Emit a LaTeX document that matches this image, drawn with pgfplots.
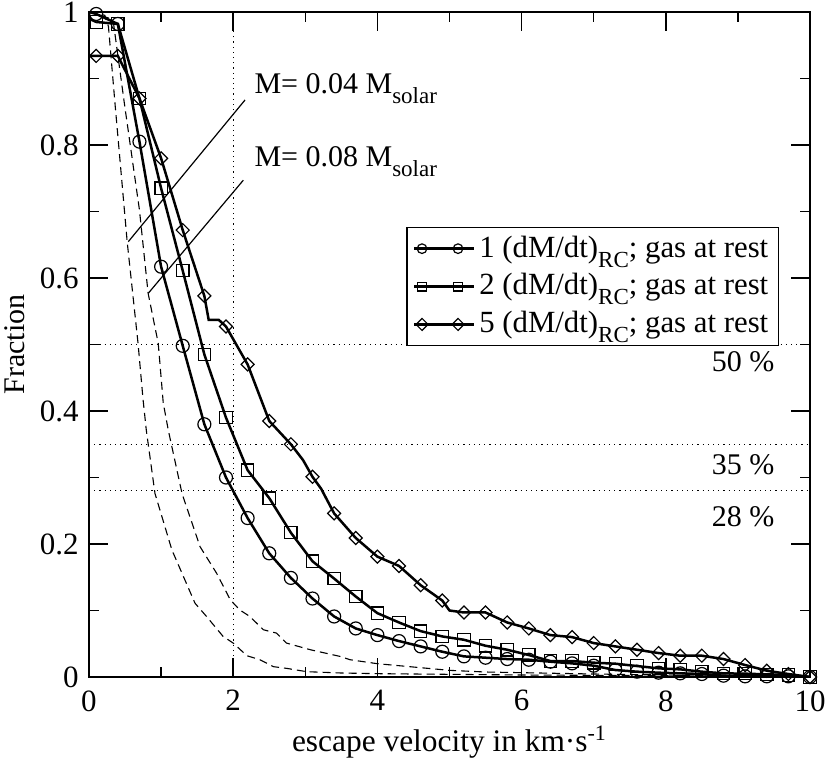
\documentclass[border=0pt]{standalone}
\usepackage{fontspec}
\setmainfont{Liberation Serif}
\usepackage{pgfplots}
\usepackage{pgfplotstable}
\pgfplotsset{compat=1.18}

\pgfplotstableread{
x y
0.1 0.997
0.4 0.982
0.7 0.805
1.0 0.617
1.3 0.498
1.6 0.380
1.9 0.300
2.2 0.239
2.5 0.186
2.8 0.149
3.1 0.118
3.4 0.091
3.7 0.073
4.0 0.063
4.3 0.054
4.6 0.046
4.9 0.038
5.2 0.031
5.5 0.029
5.8 0.027
6.1 0.026
6.4 0.023
6.7 0.0205
7.0 0.017
7.3 0.0105
7.6 0.008
7.9 0.0065
8.2 0.0055
8.5 0.0045
8.8 0.002
9.1 0.001
9.4 0.001
9.7 0.001
10.0 0
}\circdata

\pgfplotstableread{
x y
0.1 0.985
0.4 0.982
0.7 0.870
1.0 0.735
1.3 0.611
1.6 0.485
1.9 0.390
2.2 0.311
2.5 0.269
2.8 0.217
3.1 0.174
3.4 0.148
3.7 0.121
4.0 0.096
4.3 0.082
4.6 0.069
4.9 0.061
5.2 0.056
5.5 0.047
5.8 0.041
6.1 0.033
6.4 0.024
6.7 0.024
7.0 0.0215
7.3 0.020
7.6 0.0165
7.9 0.013
8.2 0.0115
8.5 0.008
8.8 0.0055
9.1 0.005
9.4 0.004
9.7 0.003
10.0 0
}\sqdata

\pgfplotstableread{
x y
0.1 0.934
0.4 0.934
0.7 0.870
1.0 0.780
1.3 0.672
1.6 0.573
1.9 0.527
2.2 0.470
2.5 0.385
2.8 0.350
3.1 0.301
3.4 0.246
3.7 0.209
4.0 0.181
4.3 0.167
4.6 0.138
4.9 0.115
5.2 0.097
5.5 0.097
5.8 0.082
6.1 0.073
6.4 0.063
6.7 0.060
7.0 0.051
7.3 0.046
7.6 0.041
7.9 0.036
8.2 0.032
8.5 0.032
8.8 0.027
9.1 0.018
9.4 0.0095
9.7 0.0045
10.0 0
}\diadata

\newcommand{\sub}[1]{\raisebox{-5pt}{\fontsize{11.5}{13}\selectfont #1}}

\begin{document}
\fontsize{15}{18}\selectfont
\begin{tikzpicture}
\begin{axis}[
  width=360.5pt, height=332.5pt, scale only axis,
  xmin=0, xmax=10, ymin=0, ymax=1,
  xtick={0,2,4,6,8,10}, ytick={0,0.2,0.4,0.6,0.8,1},
  minor x tick num=1, minor y tick num=1,
  tick align=inside,
  major tick length=9.5pt, minor tick length=5pt,
  axis line style={line width=0.75pt},
  every tick/.style={line width=0.75pt, black},
  /pgf/number format/assume math mode=true,
  ticklabel style={font=\fontsize{15.5}{18}\selectfont},
  xticklabel style={yshift=-1.5pt},
  xlabel={escape velocity in km·s\textsuperscript{-1}},
  ylabel={Fraction},
  every axis x label/.style={at={(axis description cs:0.5,0)}, anchor=base, yshift=-37pt, font=\fontsize{15.7}{19}\selectfont},
  every axis y label/.style={at={(axis description cs:0,0.5)}, xshift=-37pt, rotate=90, anchor=center, font=\fontsize{15}{18}\selectfont},
  legend style={at={(rel axis cs:0.4397,0.6767)}, anchor=north west, draw=black, line width=0.75pt,
    font=\fontsize{15.4}{19}\selectfont, inner xsep=3pt, inner ysep=2pt, row sep=2pt},
  legend cell align=left,
  clip=true,
]
% reference dotted lines
\addplot[dotted, line width=0.6pt, forget plot] coordinates {(2,0) (2,1)};
\addplot[dotted, line width=0.6pt, forget plot] coordinates {(0,0.5) (10,0.5)};
\addplot[dotted, line width=0.6pt, forget plot] coordinates {(0,0.35) (10,0.35)};
\addplot[dotted, line width=0.6pt, forget plot] coordinates {(0,0.28) (10,0.28)};

% dashed curves (M = 0.04 and M = 0.08)
\addplot[dash pattern=on 4pt off 2.5pt, line width=0.55pt, forget plot] coordinates {
(0,1.0) (0.22,0.995) (0.27,0.978) (0.36,0.863) (0.53,0.654) (0.68,0.502) (0.75,0.417) (0.795,0.371)
(0.915,0.276) (1.15,0.191) (1.47,0.111) (1.63,0.091) (1.86,0.061) (2.0,0.051) (2.19,0.032)
(2.37,0.026) (2.56,0.0155) (2.74,0.013) (3.02,0.008) (3.5,0.006) (4,0.005) (5,0.004) (6,0.003)
(7,0.0025) (8,0.002) (9,0.001) (10,0)};
\addplot[dash pattern=on 4pt off 2.5pt, line width=0.55pt, forget plot] coordinates {
(0,1.0) (0.3,0.99) (0.34,0.983) (0.49,0.863) (0.70,0.702) (0.82,0.577) (0.96,0.502) (1.03,0.412)
(1.10,0.371) (1.29,0.276) (1.54,0.196) (1.77,0.156) (1.96,0.116) (2.09,0.101) (2.23,0.091)
(2.42,0.071) (2.60,0.066) (2.74,0.051) (3.07,0.041) (3.48,0.031) (3.62,0.026) (4,0.02)
(4.5,0.015) (5,0.01) (5.5,0.0075) (6,0.0065) (7,0.0045) (8,0.003) (9,0.0015) (10,0)};

% annotation pointers
\addplot[line width=0.6pt, forget plot] coordinates {(0.545,0.6546) (2.164,0.8677)};
\addplot[line width=0.6pt, forget plot] coordinates {(0.822,0.577) (2.14,0.747)};

% curve 1 (circles)
\addplot[line width=1.25pt,
  legend image code/.code={\path (-4pt,0pt) -- (26pt,0pt);
    \draw[line width=1.25pt] (0pt,0pt) -- (18pt,0pt);
    \draw[line width=0.6pt] (0pt,0pt) circle (2.4pt) (18pt,0pt) circle (2.4pt);}]
  coordinates {(0,1.0)};
\addlegendentry{1 (dM/dt)\sub{RC}; gas at rest}
\addplot[line width=1.25pt, forget plot] coordinates {(0,1.0) (0.1,0.997)};
\addplot[line width=1.25pt, forget plot] table[x=x,y=y] {\circdata};
\addplot[only marks, mark=o, mark size=3.25pt, mark options={line width=0.6pt}, forget plot] table[x=x,y=y] {\circdata};

% curve 2 (squares)
\addplot[line width=1.25pt,
  legend image code/.code={\path (-4pt,0pt) -- (26pt,0pt);
    \draw[line width=1.25pt] (0pt,0pt) -- (18pt,0pt);
    \draw[line width=0.6pt] (-2.2pt,-2.2pt) rectangle (2.2pt,2.2pt) (15.8pt,-2.2pt) rectangle (20.2pt,2.2pt);}]
  coordinates {(0,1.0)};
\addlegendentry{2 (dM/dt)\sub{RC}; gas at rest}
\addplot[line width=1.25pt, forget plot] table[x=x,y=y] {\sqdata};
\addplot[line width=1.25pt, forget plot] coordinates {(0,0.99) (0.1,0.985)};
\addplot[only marks, mark=square, mark size=3.1pt, mark options={line width=0.6pt}, forget plot] table[x=x,y=y] {\sqdata};

% curve 3 (diamonds)
\addplot[line width=1.25pt,
  legend image code/.code={\path (-4pt,0pt) -- (26pt,0pt);
    \draw[line width=1.25pt] (0pt,0pt) -- (18pt,0pt);
    \draw[line width=0.6pt] (-3pt,0pt) -- (0pt,3pt) -- (3pt,0pt) -- (0pt,-3pt) -- cycle
      (15pt,0pt) -- (18pt,3pt) -- (21pt,0pt) -- (18pt,-3pt) -- cycle;}]
  coordinates {(0,1.0)};
\addlegendentry{5 (dM/dt)\sub{RC}; gas at rest}
\addplot[line width=1.25pt, forget plot] coordinates {
(0,0.934) (0.1,0.934) (0.4,0.934) (0.7,0.870) (1.0,0.780) (1.3,0.672) (1.6,0.573) (1.66,0.537) (1.8,0.537)
(1.9,0.527) (2.2,0.470) (2.5,0.385) (2.8,0.350) (2.97,0.326) (3.1,0.301) (3.22,0.283) (3.4,0.246) (3.7,0.209)
(4.0,0.181) (4.3,0.167) (4.6,0.138) (4.9,0.115) (5.0,0.100) (5.2,0.097) (5.5,0.097) (5.8,0.082) (6.1,0.073)
(6.4,0.063) (6.7,0.060) (7.0,0.051) (7.3,0.046) (7.6,0.041) (7.9,0.036) (8.2,0.032) (8.5,0.032) (8.8,0.027)
(9.1,0.018) (9.4,0.0095) (9.7,0.0045) (10.0,0)};
\addplot[only marks, mark=square, mark size=2.3pt, mark options={line width=0.6pt, rotate=45}, forget plot] table[x=x,y=y] {\diadata};

% percent labels
\node[anchor=east, inner sep=0pt] at (axis cs:9.51,0.474) {50 \%};
\node[anchor=east, inner sep=0pt] at (axis cs:9.51,0.319) {35 \%};
\node[anchor=east, inner sep=0pt] at (axis cs:9.51,0.241) {28 \%};

% mass labels
\node[anchor=base west, inner sep=0pt] at (axis cs:2.29,0.878) {M= 0.04 M\sub{solar}};
\node[anchor=base west, inner sep=0pt] at (axis cs:2.29,0.767) {M= 0.08 M\sub{solar}};

\coordinate (bl) at (rel axis cs:0,0);
\coordinate (tr) at (rel axis cs:1,1);
\end{axis}
\pgfresetboundingbox
\path[use as bounding box] ([xshift=-44.5pt,yshift=-49.5pt]bl) rectangle ([xshift=10pt,yshift=6pt]tr);
\end{tikzpicture}
\end{document}
